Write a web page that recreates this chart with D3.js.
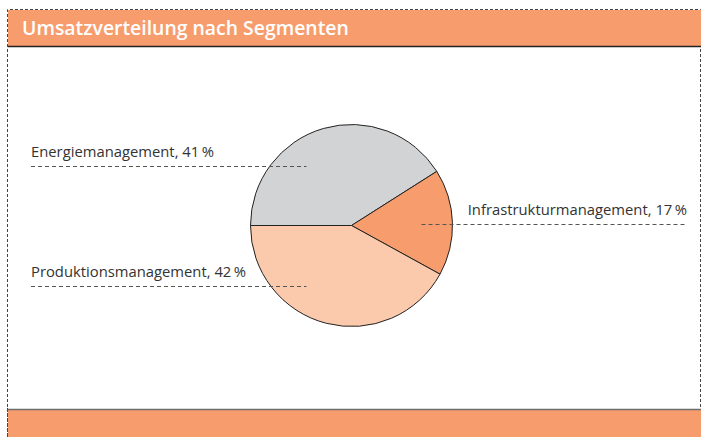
<!DOCTYPE html>
<html>
<head>
<meta charset="utf-8">
<script src="https://cdn.jsdelivr.net/npm/d3@7"></script>
<style>
  body { margin: 0; background: #fff; }
  text { font-family: "Open Sans", sans-serif; }
</style>
</head>
<body>
<svg id="chart" width="701" height="437"></svg>
<script>
var title = "Umsatzverteilung nach Segmenten";
var segments = ["Energiemanagement", "Infrastrukturmanagement", "Produktionsmanagement"];
var shares = [41, 17, 42];
var colors = ["#d2d3d5", "#f79d6d", "#fbcaac"];

var svg = d3.select("#chart"),
    width = +svg.attr("width"),
    height = +svg.attr("height"),
    cx = 351.5, cy = 225.5,
    radius = 101;

// frame: dashed outline
svg.append("path")
    .attr("d", "M7.5,437 V9.5 H700.5 V408")
    .attr("fill", "none")
    .attr("stroke", "#444")
    .attr("stroke-width", 1)
    .attr("stroke-dasharray", "3,2");

// header bar
svg.append("rect").attr("x", 8).attr("y", 10).attr("width", width - 8).attr("height", 36)
    .attr("fill", "#f79d6d");
svg.append("line").attr("x1", 8).attr("x2", width).attr("y1", 46.5).attr("y2", 46.5)
    .attr("stroke", "#222").attr("stroke-width", 1.5);
svg.append("text")
    .attr("x", 22).attr("y", 35)
    .attr("fill", "#fff")
    .attr("font-size", "19.4px")
    .attr("font-weight", 600)
    .text(title);

// footer bar
svg.append("rect").attr("x", 8).attr("y", 410).attr("width", width - 8).attr("height", 27)
    .attr("fill", "#f79d6d");
svg.append("line").attr("x1", 8).attr("x2", width).attr("y1", 409.5).attr("y2", 409.5)
    .attr("stroke", "#6e6e6e").attr("stroke-width", 1.5);
svg.append("line").attr("x1", 7.5).attr("x2", 7.5).attr("y1", 408).attr("y2", 437)
    .attr("stroke", "#444").attr("stroke-dasharray", "3,2");

var data = segments.map(function(s, i) { return { name: s, rate: shares[i], color: colors[i] }; });

var pie = d3.pie()
    .sort(null)
    .startAngle(-Math.PI / 2)
    .endAngle(Math.PI * 1.5)
    .value(function(d) { return d.rate; });

var path = d3.arc().outerRadius(radius).innerRadius(0);
var label = d3.arc().outerRadius(62).innerRadius(62);

var g = svg.append("g").attr("transform", "translate(" + cx + "," + cy + ")");

var arcs = pie(data);

g.selectAll(".slice")
    .data(arcs)
    .enter().append("path")
    .attr("class", "slice")
    .attr("d", path)
    .attr("fill", function(d) { return d.data.color; })
    .attr("stroke", "#222")
    .attr("stroke-width", 1);

// labels with dashed leader lines
var lab = svg.selectAll(".lab")
    .data(arcs)
    .enter().append("g")
    .attr("class", "lab");

lab.each(function(d) {
    var c = label.centroid(d),
        y = Math.round(cy + c[1]) + 0.5,
        right = c[0] > 30,
        x1 = right ? cx + 70 : 31,
        x2 = right ? 687 : cx - 45;
    var sel = d3.select(this);
    sel.append("line")
        .attr("x1", x1).attr("x2", x2).attr("y1", y).attr("y2", y)
        .attr("stroke", "#555").attr("stroke-width", 1)
        .attr("stroke-dasharray", "4,3");
    sel.append("text")
        .attr("x", right ? 687 : 31)
        .attr("y", y - 10)
        .attr("text-anchor", right ? "end" : "start")
        .attr("fill", "#333")
        .attr("font-size", "14.8px")
        .text(d.data.name + ", " + d.data.rate + "\u2009%");
});
</script>
</body>
</html>
